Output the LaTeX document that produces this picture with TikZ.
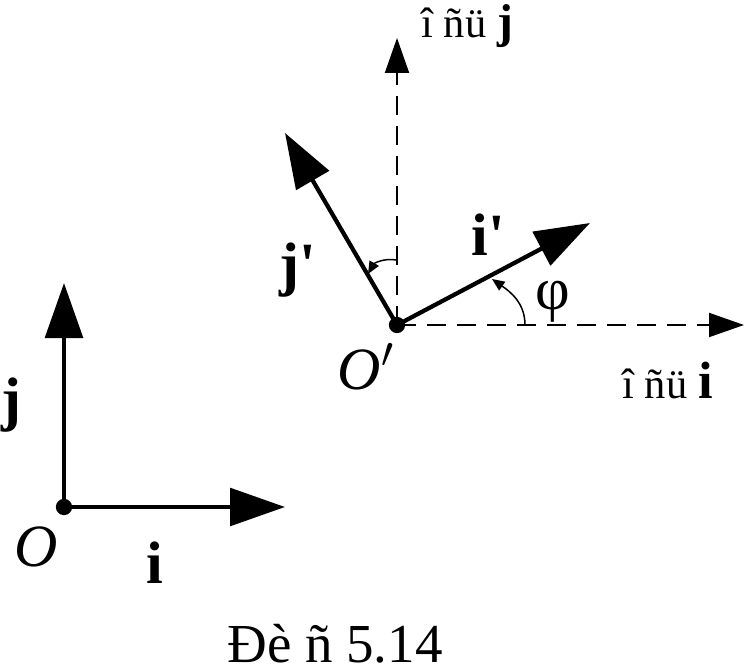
\documentclass[tikz,border=0pt]{standalone}
\usepackage{fontspec}
\setmainfont{Liberation Serif}[Ligatures=TeXOff]
\usetikzlibrary{arrows.meta}
\tikzset{every node/.style={align=center, inner sep=0pt}, >={Triangle[length=22pt,width=15pt]}, font=\fontsize{24}{28}\selectfont,
  dot/.style={circle, fill, minimum size=6.5pt},
  vec/.style={->, line width=1.7pt},
  axis/.style={-{Triangle[length=14pt,width=9.6pt]}, line width=0.8pt, dash pattern=on 7.5pt off 4.5pt},
  turn/.style={-{Triangle[length=5pt,width=4.2pt]}, line width=0.6pt},
  small/.style={anchor=base west, font=\fontsize{17}{20}\selectfont}}

\begin{document}
\begin{tikzpicture}[x=0.4pt, y=0.4pt]
            \useasboundingbox (0,0) rectangle (745,-671);
            \node [dot] (o) at (64,-507) {};
            \node [dot] (op) at (397,-325) {};
            \coordinate (itip) at (285,-507);
            \coordinate (jtip) at (64,-283);
            \coordinate (ipt) at (590,-223);
            \coordinate (jpt) at (285,-133);
            \coordinate (xtip) at (744,-325);
            \coordinate (ytip) at (397,-38);
            \path[vec] (o.center) edge (itip) edge (jtip)
                (op.center) edge (ipt) edge (jpt);
            \path[axis] (op.center) edge (xtip) edge (ytip);
            % angle marks
            \coordinate (a1) at (525,-325);
            \coordinate (a2) at (492,-279);
            \coordinate (b1) at (396,-260);
            \coordinate (b2) at (368,-274);
            \draw[turn] (a1) to[out=90, in=-35] (a2);
            \draw[turn] (b1) to[out=170, in=60] (b2);
            \node (jl) at (11,-405) {\textbf{j}};
            \node (ol) at (36,-547) {\textit{O}};
            \node (il) at (155,-563) {\textbf{i}};
            \node (jpl) at (298,-270) {\textbf{j'}};
            \node (ipl) at (488,-235) {\textbf{i'}};
            \node (phi) at (553,-302) {φ};
            \node (opl) at (366,-367) {\textit{O}$'$};
            \node [small] (yl) at (421,-38) {î ñü {\fontsize{19}{22}\selectfont\textbf{j}}};
            \node [small] (xl) at (622,-398) {î ñü {\fontsize{21}{24}\selectfont\textbf{i}}};
            \node [anchor=base, font=\fontsize{22}{26}\selectfont] (cap) at (335,-662) {Đè ñ 5.14};
        \end{tikzpicture}
\end{document}
